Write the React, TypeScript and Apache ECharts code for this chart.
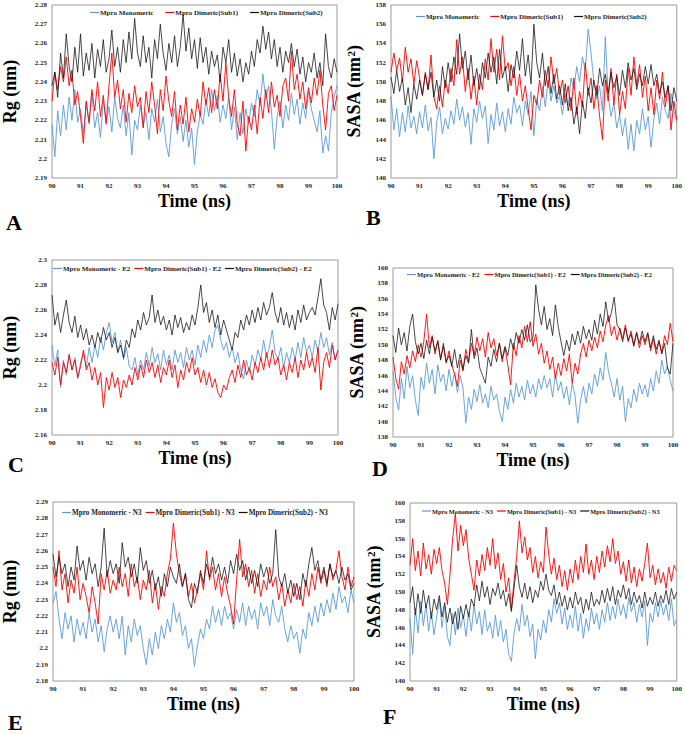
import React, { useEffect, useRef } from "react";
import * as echarts from "echarts";

// ---- time axis (ns) ----
const times: number[] = Array.from({ length: 101 }, (_, i) => Math.round((90 + i / 10) * 10) / 10);

// ---- Panel A: Rg (nm), apo ----
const rgA_mono = [2.218,2.201,2.225,2.212,2.228,2.215,2.232,2.220,2.236,2.219,2.226,
2.213,2.229,2.218,2.234,2.216,2.224,2.211,2.230,2.219,2.227,
2.214,2.232,2.221,2.216,2.228,2.212,2.224,2.202,2.220,2.215,
2.228,2.217,2.224,2.210,2.226,2.219,2.231,2.214,2.222,2.208,
2.201,2.218,2.226,2.213,2.222,2.209,2.220,2.206,2.216,2.197,
2.214,2.223,2.218,2.231,2.222,2.236,2.225,2.233,2.219,2.228,
2.221,2.232,2.215,2.227,2.210,2.224,2.213,2.226,2.218,2.229,
2.222,2.236,2.228,2.244,2.231,2.238,2.225,2.205,2.222,2.230,
2.216,2.228,2.220,2.234,2.223,2.231,2.218,2.229,2.221,2.235,
2.226,2.220,2.214,2.225,2.203,2.212,2.204,2.224,2.232,2.238];
const rgA_sub1 = [2.230,2.245,2.236,2.248,2.240,2.253,2.238,2.246,2.228,2.235,2.222,
2.208,2.230,2.219,2.236,2.225,2.240,2.222,2.233,2.218,2.238,
2.255,2.232,2.241,2.226,2.236,2.219,2.234,2.224,2.238,2.227,
2.232,2.216,2.235,2.224,2.240,2.228,2.213,2.236,2.225,2.243,
2.230,2.222,2.235,2.215,2.228,2.218,2.232,2.214,2.226,2.219,
2.231,2.222,2.240,2.228,2.237,2.224,2.236,2.226,2.244,2.230,
2.250,2.232,2.222,2.236,2.218,2.212,2.230,2.204,2.222,2.215,
2.228,2.213,2.232,2.221,2.236,2.224,2.240,2.227,2.233,2.222,
2.238,2.242,2.230,2.256,2.236,2.244,2.231,2.240,2.226,2.237,
2.229,2.242,2.233,2.246,2.228,2.215,2.234,2.238,2.225,2.233];
const rgA_sub2 = [2.238,2.245,2.232,2.255,2.242,2.265,2.248,2.240,2.258,2.245,2.265,
2.243,2.255,2.246,2.260,2.242,2.257,2.248,2.262,2.245,2.252,
2.267,2.248,2.258,2.245,2.262,2.250,2.266,2.252,2.273,2.255,
2.248,2.264,2.250,2.258,2.242,2.262,2.252,2.270,2.255,2.246,
2.260,2.250,2.264,2.248,2.258,2.275,2.256,2.268,2.252,2.262,
2.247,2.263,2.250,2.258,2.244,2.256,2.248,2.254,2.240,2.258,
2.250,2.262,2.245,2.255,2.243,2.252,2.240,2.250,2.244,2.256,
2.248,2.262,2.255,2.269,2.257,2.266,2.252,2.262,2.248,2.258,
2.245,2.256,2.250,2.260,2.248,2.257,2.244,2.253,2.240,2.250,
2.245,2.255,2.242,2.250,2.238,2.265,2.248,2.242,2.252,2.245];

// ---- Panel B: SASA (nm2), apo ----
const sasaB_mono = [148.5,145.0,147.2,144.3,146.8,144.8,147.5,145.2,146.4,144.6,146.9,
145.2,147.6,144.9,146.3,142.0,145.8,147.4,144.6,146.2,145.1,
147.0,145.6,148.2,146.0,147.4,145.3,146.8,143.5,147.2,145.8,
148.0,146.2,147.5,143.6,146.6,145.0,147.8,145.4,146.9,144.8,
147.2,145.6,148.4,146.8,147.6,145.4,148.0,146.6,149.0,144.4,
148.2,147.0,149.5,147.4,150.2,148.0,149.6,147.8,148.5,146.6,
148.8,147.5,150.4,149.2,151.6,150.0,152.6,151.2,155.5,153.0,
150.0,148.2,149.6,147.0,154.7,148.5,146.4,147.8,145.2,146.6,
144.4,146.2,143.0,145.6,142.8,146.0,144.6,147.2,145.0,146.4,
143.2,146.2,147.8,145.6,148.4,147.0,146.2,148.8,147.0,145.8];
const sasaB_sub1 = [151.0,153.0,151.2,152.5,150.0,153.6,151.0,152.4,149.8,152.2,150.4,
148.6,151.0,149.2,152.8,148.4,147.2,149.6,147.4,150.2,148.8,
151.4,149.6,154.4,150.8,152.6,149.0,151.4,148.2,150.6,147.6,
150.8,149.2,152.4,150.2,154.5,151.0,153.4,150.2,154.8,151.2,
152.0,149.6,151.6,148.6,150.8,148.0,149.6,147.2,145.0,148.6,
147.6,150.2,148.4,151.2,149.4,152.6,149.8,151.4,148.6,150.2,
147.8,149.6,147.0,150.4,146.6,149.0,147.4,152.0,148.6,150.4,
147.2,149.6,146.4,144.0,150.2,148.0,151.4,147.6,150.8,146.6,
149.0,147.2,151.4,148.6,152.6,149.6,151.8,148.4,150.6,147.0,
149.4,146.6,150.2,148.2,151.0,147.4,149.6,145.0,148.0,146.0];
const sasaB_sub2 = [150.5,148.8,151.2,149.0,150.4,147.6,149.4,146.8,149.8,148.2,150.2,
148.6,150.8,149.2,151.0,148.4,150.2,148.0,151.6,149.4,152.0,
150.0,152.6,150.8,155.0,151.4,153.2,150.2,152.8,149.6,151.4,
149.2,152.0,150.4,153.0,151.0,152.6,149.8,153.4,150.4,151.6,
149.0,151.8,150.4,153.2,151.2,154.5,150.6,152.8,149.8,156.0,
152.0,150.4,153.0,149.6,151.6,148.8,150.8,148.2,149.6,147.6,
149.8,147.0,148.4,145.6,147.4,144.6,148.0,146.2,149.4,147.8,
150.2,148.6,151.4,149.6,150.8,148.8,151.0,149.4,150.6,148.6,
151.2,149.4,152.0,150.2,151.4,149.2,150.8,149.6,151.6,149.8,
151.8,149.6,150.8,148.8,150.0,148.4,149.6,147.0,149.4,148.0];

// ---- Panel C: Rg (nm), E2 ----
const rgC_mono = [2.232,2.215,2.228,2.198,2.220,2.208,2.225,2.212,2.222,2.205,2.218,
2.226,2.214,2.230,2.218,2.232,2.222,2.238,2.228,2.242,2.250,
2.234,2.242,2.226,2.236,2.220,2.230,2.215,2.212,2.222,2.208,
2.220,2.212,2.226,2.215,2.230,2.218,2.225,2.212,2.228,2.216,
2.224,2.212,2.228,2.218,2.226,2.214,2.230,2.220,2.228,2.216,
2.232,2.222,2.236,2.226,2.240,2.230,2.244,2.248,2.236,2.228,
2.234,2.222,2.230,2.218,2.226,2.212,2.205,2.220,2.210,2.224,
2.216,2.228,2.220,2.236,2.222,2.230,2.244,2.226,2.220,2.230,
2.214,2.226,2.218,2.230,2.220,2.234,2.222,2.238,2.226,2.232,
2.222,2.236,2.226,2.242,2.230,2.238,2.224,2.234,2.220,2.228];
const rgC_sub1 = [2.218,2.208,2.222,2.200,2.218,2.210,2.224,2.212,2.220,2.206,2.215,
2.228,2.212,2.218,2.204,2.214,2.200,2.210,2.182,2.206,2.196,
2.210,2.198,2.206,2.190,2.204,2.198,2.208,2.200,2.214,2.204,
2.216,2.206,2.220,2.210,2.218,2.206,2.216,2.202,2.214,2.208,
2.220,2.206,2.216,2.198,2.212,2.204,2.218,2.210,2.222,2.208,
2.214,2.202,2.212,2.200,2.210,2.198,2.205,2.194,2.190,2.200,
2.196,2.206,2.212,2.202,2.216,2.206,2.220,2.208,2.214,2.204,
2.218,2.210,2.222,2.212,2.226,2.214,2.228,2.216,2.222,2.208,
2.216,2.204,2.218,2.210,2.222,2.206,2.220,2.212,2.226,2.214,
2.222,2.210,2.230,2.196,2.218,2.226,2.214,2.232,2.220,2.228];
const rgC_sub2 = [2.272,2.248,2.258,2.242,2.256,2.268,2.250,2.242,2.255,2.238,2.248,
2.236,2.245,2.232,2.240,2.230,2.242,2.234,2.246,2.236,2.242,
2.230,2.238,2.226,2.232,2.222,2.236,2.230,2.245,2.238,2.252,
2.244,2.258,2.248,2.254,2.272,2.250,2.260,2.248,2.255,2.244,
2.252,2.240,2.256,2.246,2.254,2.242,2.250,2.244,2.256,2.248,
2.262,2.280,2.258,2.266,2.250,2.260,2.246,2.256,2.240,2.252,
2.244,2.236,2.228,2.242,2.238,2.252,2.244,2.256,2.248,2.260,
2.250,2.262,2.252,2.266,2.256,2.262,2.274,2.258,2.250,2.262,
2.248,2.258,2.246,2.256,2.244,2.260,2.250,2.264,2.252,2.258,
2.262,2.256,2.270,2.285,2.264,2.258,2.244,2.262,2.252,2.265];

// ---- Panel D: SASA (nm2), E2 ----
const sasaD_mono = [146.5,143.2,141.5,145.6,143.0,147.2,144.4,146.0,142.8,140.8,145.8,
144.2,147.6,145.0,146.8,143.6,147.4,145.2,146.2,144.0,146.8,
144.6,146.4,143.8,146.0,144.4,139.8,143.2,141.6,144.2,142.6,
144.8,142.4,143.6,141.8,144.6,142.8,143.6,141.4,140.0,143.2,
141.6,144.2,142.4,145.0,143.2,144.6,142.8,145.4,143.6,144.8,
143.2,145.6,144.2,146.0,144.4,145.6,143.2,146.2,144.0,145.2,
143.0,144.6,142.2,145.0,143.4,139.8,142.8,144.6,142.4,145.0,
143.6,146.2,144.6,147.0,145.4,149.0,146.4,145.0,143.2,145.6,
142.8,144.6,140.0,143.0,141.8,144.2,142.6,145.0,143.6,144.8,
143.2,145.6,144.0,146.6,145.0,148.0,146.2,147.2,145.4,144.0];
const sasaD_sub1 = [148.4,145.6,144.2,147.8,146.2,148.6,147.0,149.2,147.8,150.0,148.4,
150.4,154.0,149.6,151.2,148.8,150.6,148.2,149.8,147.6,149.2,
147.4,146.2,144.6,148.0,146.6,149.4,147.8,150.2,148.6,151.0,
149.2,150.8,148.4,151.6,149.6,150.8,148.6,150.2,147.8,149.6,
147.4,144.8,150.2,148.6,151.2,149.6,152.4,150.4,153.0,149.8,
151.4,148.8,150.2,147.6,149.2,146.8,148.4,145.6,147.6,146.0,
148.2,146.6,148.8,145.0,147.6,146.2,148.8,150.2,148.4,150.6,
149.2,151.0,149.6,151.8,150.4,152.6,153.8,151.2,152.4,150.6,
152.2,150.8,152.6,150.4,151.8,150.0,151.6,149.6,151.2,150.0,
151.4,149.2,150.8,148.8,150.4,149.0,151.2,150.0,152.8,150.4];
const sasaD_sub2 = [151.2,149.0,152.2,150.0,151.6,149.2,152.4,154.0,150.4,148.8,150.2,
148.2,150.6,148.8,151.0,149.2,150.4,148.0,150.2,147.8,148.6,
147.2,149.4,147.0,148.8,146.8,148.6,147.6,152.0,148.2,149.6,
147.0,146.0,145.0,148.4,147.2,149.4,147.8,150.2,148.2,149.8,
148.6,150.8,149.4,151.6,150.2,152.0,150.6,152.6,150.4,151.0,
157.8,154.6,152.6,155.0,152.0,153.4,151.2,155.2,152.4,150.4,
148.6,150.6,149.2,151.4,150.0,151.8,150.2,152.4,150.8,152.0,
150.6,153.2,151.4,154.0,152.4,155.6,153.0,154.2,156.2,152.6,
152.0,150.4,152.2,150.6,151.4,149.8,151.6,150.2,151.8,150.4,
151.6,149.6,151.2,149.4,150.6,148.8,150.2,147.0,146.2,150.2];

// ---- Panel E: Rg (nm), N3 ----
const rgE_mono = [2.228,2.235,2.218,2.206,2.222,2.212,2.220,2.204,2.218,2.208,2.216,
2.206,2.222,2.210,2.218,2.204,2.214,2.198,2.212,2.220,2.210,
2.218,2.206,2.220,2.196,2.214,2.204,2.218,2.208,2.214,2.200,
2.190,2.206,2.196,2.210,2.200,2.214,2.206,2.218,2.210,2.228,
2.216,2.222,2.208,2.214,2.200,2.206,2.189,2.202,2.212,2.206,
2.218,2.212,2.226,2.216,2.224,2.214,2.226,2.218,2.222,2.212,
2.224,2.216,2.228,2.214,2.226,2.218,2.224,2.212,2.228,2.220,
2.226,2.214,2.230,2.220,2.216,2.226,2.212,2.204,2.214,2.206,
2.210,2.197,2.212,2.206,2.222,2.214,2.226,2.216,2.228,2.220,
2.230,2.222,2.234,2.224,2.238,2.228,2.232,2.222,2.236,2.228];
const rgE_sub1 = [2.250,2.238,2.260,2.236,2.246,2.228,2.242,2.234,2.250,2.230,2.240,
2.232,2.222,2.238,2.228,2.215,2.246,2.236,2.248,2.234,2.242,
2.236,2.250,2.238,2.246,2.232,2.252,2.238,2.244,2.230,2.242,
2.236,2.248,2.228,2.240,2.224,2.238,2.232,2.246,2.255,2.277,
2.258,2.246,2.238,2.246,2.232,2.240,2.228,2.236,2.246,2.236,
2.260,2.242,2.250,2.236,2.246,2.232,2.244,2.234,2.226,2.215,
2.242,2.267,2.244,2.252,2.238,2.248,2.234,2.246,2.232,2.242,
2.236,2.250,2.238,2.244,2.230,2.240,2.226,2.236,2.228,2.240,
2.230,2.238,2.226,2.242,2.232,2.246,2.236,2.250,2.240,2.248,
2.238,2.252,2.242,2.248,2.260,2.244,2.236,2.250,2.238,2.244];
const rgE_sub2 = [2.258,2.244,2.256,2.246,2.252,2.238,2.250,2.242,2.263,2.248,2.254,
2.242,2.256,2.246,2.252,2.238,2.250,2.274,2.244,2.254,2.246,
2.252,2.240,2.265,2.250,2.256,2.244,2.252,2.240,2.262,2.248,
2.254,2.240,2.248,2.236,2.244,2.232,2.246,2.238,2.250,2.244,
2.240,2.252,2.238,2.246,2.230,2.225,2.240,2.234,2.248,2.240,
2.252,2.244,2.256,2.246,2.252,2.242,2.250,2.240,2.254,2.246,
2.258,2.248,2.254,2.242,2.250,2.240,2.248,2.238,2.252,2.244,
2.250,2.240,2.246,2.273,2.244,2.238,2.246,2.234,2.242,2.232,
2.240,2.230,2.246,2.238,2.252,2.262,2.248,2.254,2.242,2.250,
2.240,2.252,2.244,2.248,2.240,2.250,2.242,2.246,2.236,2.240];

// ---- Panel F: SASA (nm2), N3 ----
const sasaF_mono = [147.0,143.0,148.2,145.4,149.0,146.2,148.6,145.6,147.8,145.2,147.2,
149.2,146.0,148.4,145.0,144.0,147.6,145.2,148.2,146.0,147.4,
145.0,147.8,145.6,148.6,146.4,147.8,145.2,148.0,145.6,146.6,
144.8,147.4,145.0,146.8,144.4,145.8,143.0,142.2,145.4,147.0,
145.6,148.6,146.2,147.4,145.0,146.4,142.5,145.8,144.6,146.8,
145.4,148.0,146.6,149.2,147.6,148.8,146.4,148.2,145.8,147.4,
146.0,148.4,145.6,147.6,144.8,147.0,145.6,148.2,146.4,147.6,
145.8,148.0,146.6,148.8,146.8,148.4,147.0,149.2,147.4,148.6,
147.0,149.4,147.8,148.8,146.6,148.6,147.2,149.0,144.0,147.6,
146.6,148.8,147.2,149.0,147.4,148.6,146.8,149.2,146.2,147.0];
const sasaF_sub1 = [153.0,156.0,152.4,154.6,151.8,155.5,152.6,154.2,152.0,154.8,153.2,
155.0,152.4,151.0,148.6,152.0,156.0,158.8,154.6,157.5,155.2,
157.0,153.8,152.0,150.2,153.6,151.8,154.2,152.4,155.0,153.0,
156.0,152.6,154.4,151.4,153.2,150.0,151.6,148.0,151.2,154.0,
158.0,154.4,156.2,153.6,155.0,152.2,154.0,151.6,153.4,152.2,
157.3,154.2,152.0,153.8,151.4,153.0,150.6,152.4,150.2,152.6,
151.0,153.6,151.4,154.0,152.2,155.4,152.0,153.6,151.4,154.0,
152.2,154.6,152.8,155.2,153.4,156.0,153.2,154.6,152.0,153.4,
151.2,153.6,151.0,152.8,150.6,152.6,151.2,153.2,155.5,151.6,
153.0,150.8,152.6,151.0,152.2,150.4,152.8,151.2,153.0,152.4];
const sasaF_sub2 = [148.8,150.6,147.4,149.8,147.6,150.2,148.2,149.6,147.0,149.2,148.0,
149.6,147.2,148.8,146.6,148.2,146.4,147.8,145.8,148.4,147.0,
148.6,147.2,149.2,148.4,150.8,149.0,151.2,149.4,150.6,148.6,
150.4,149.6,151.0,149.2,150.2,148.4,149.8,147.8,150.4,153.0,
150.6,149.4,151.0,149.2,150.6,148.8,150.2,149.4,151.2,150.2,
152.0,150.2,149.6,150.8,148.6,150.0,148.4,149.6,148.0,149.4,
148.2,150.0,148.6,149.4,147.6,149.2,148.0,150.0,148.4,149.2,
148.6,150.2,148.8,150.4,149.0,150.6,148.6,150.2,149.4,150.8,
149.2,150.4,148.6,150.0,148.8,149.6,148.2,150.0,148.4,149.4,
148.6,150.0,148.4,149.6,148.8,150.2,148.6,150.4,149.2,150.0];

const namesAB = ["Mpro Monomeric", "Mpro Dimeric(Sub1)", "Mpro Dimeric(Sub2)"];
const namesCD = ["Mpro Monomeric - E2", "Mpro Dimeric(Sub1) - E2", "Mpro Dimeric(Sub2) - E2"];
const namesEF = ["Mpro Monomeric - N3", "Mpro Dimeric(Sub1) - N3", "Mpro Dimeric(Sub2) - N3"];
const panelLetters = ["A", "B", "C", "D", "E", "F"];
const rgTitle = "Rg (nm)";
const sasaTitle = "SASA (nm{sup|2})";
const timeTitle = "Time (ns)";

const COLORS = ["#5b9bd5", "#ff0000", "#111111"];
const FONT = "'Liberation Serif', 'Times New Roman', serif";

const panels = [
  { names: namesAB, data: [rgA_mono, rgA_sub1, rgA_sub2], min: 2.19, max: 2.28, interval: 0.01, title: rgTitle,
    grid: { left: 43, top: 5, width: 294, height: 173 }, nameGap: 33,
    legend: { left: 90, top: 9, gap: 12, fs: 7 }, letter: [6, 211] },
  { names: namesAB, data: [sasaB_mono, sasaB_sub1, sasaB_sub2], min: 140, max: 158, interval: 2, title: sasaTitle,
    grid: { left: 391, top: 5, width: 288, height: 173 }, nameGap: 28,
    legend: { left: 416, top: 13, gap: 11, fs: 7 }, letter: [366, 206] },
  { names: namesCD, data: [rgC_mono, rgC_sub1, rgC_sub2], min: 2.16, max: 2.3, interval: 0.02, title: rgTitle,
    grid: { left: 43, top: 260, width: 295, height: 175 }, nameGap: 33,
    legend: { left: 53, top: 265, gap: 4, fs: 7 }, letter: [8, 453] },
  { names: namesCD, data: [sasaD_mono, sasaD_sub1, sasaD_sub2], min: 138, max: 160, interval: 2, title: sasaTitle,
    grid: { left: 393, top: 268, width: 280, height: 169 }, nameGap: 27,
    legend: { left: 407, top: 271, gap: 5, fs: 6.5 }, letter: [372, 457] },
  { names: namesEF, data: [rgE_mono, rgE_sub1, rgE_sub2], min: 2.18, max: 2.29, interval: 0.01, title: rgTitle,
    grid: { left: 47, top: 502, width: 307, height: 179 }, nameGap: 34,
    legend: { left: 62, top: 509, gap: 4, fs: 7.2 }, letter: [8, 711] },
  { names: namesEF, data: [sasaF_mono, sasaF_sub1, sasaF_sub2], min: 140, max: 160, interval: 2, title: sasaTitle,
    grid: { left: 410, top: 503, width: 272, height: 178 }, nameGap: 27,
    legend: { left: 422, top: 508, gap: 4, fs: 6.3 }, letter: [383, 705] },
];

export default function App() {
  const ref = useRef<HTMLDivElement>(null);
  useEffect(() => {
    if (!ref.current) return;
    const chart = echarts.init(ref.current, undefined, { renderer: "svg" });
    const grid: any[] = [];
    const xAxis: any[] = [];
    const yAxis: any[] = [];
    const series: any[] = [];
    const legend: any[] = [];
    const graphic: any[] = [];
    panels.forEach((p, gi) => {
      grid.push({ ...p.grid, show: true, borderColor: "#9a9a9a", borderWidth: 1, backgroundColor: "transparent" });
      xAxis.push({
        type: "value", gridIndex: gi, min: 90, max: 100, interval: 1,
        axisLine: { show: false }, axisTick: { show: false }, splitLine: { show: false },
        axisLabel: { fontFamily: FONT, fontWeight: "bold", fontSize: 7, color: "#222", margin: 4 },
        name: timeTitle, nameLocation: "middle", nameGap: 14,
        nameTextStyle: { fontFamily: FONT, fontWeight: "bold", fontSize: 18, color: "#000", verticalAlign: "top" },
      });
      yAxis.push({
        type: "value", gridIndex: gi, min: p.min, max: p.max, interval: p.interval,
        axisLine: { show: false }, axisTick: { show: false }, splitLine: { show: false },
        axisLabel: { fontFamily: FONT, fontWeight: "bold", fontSize: 7, color: "#222", margin: 5 },
        name: p.title, nameLocation: "middle", nameGap: p.nameGap,
        nameTextStyle: {
          fontFamily: FONT, fontWeight: "bold", fontSize: 18, color: "#000",
          rich: { sup: { fontFamily: FONT, fontWeight: "bold", fontSize: 11, color: "#000", verticalAlign: "top", lineHeight: 18 } },
        },
      });
      p.names.forEach((n, si) => {
        series.push({
          type: "line", name: n, xAxisIndex: gi, yAxisIndex: gi,
          data: times.map((t, i) => [t, p.data[si][i]]),
          showSymbol: false, silent: true,
          lineStyle: { color: COLORS[si], width: 0.9, opacity: si === 2 ? 0.85 : 1 },
          itemStyle: { color: COLORS[si] },
          z: 2 + si,
        });
      });
      legend.push({
        left: p.legend.left, top: p.legend.top, width: 400, padding: 0, data: p.names, icon: "rect",
        itemWidth: 9, itemHeight: 1.2, itemGap: p.legend.gap, selectedMode: false,
        textStyle: { fontFamily: FONT, fontWeight: "bold", fontSize: p.legend.fs, color: "#222", padding: [0, 0, 0, -4] },
      });
      graphic.push({
        type: "text", x: p.letter[0], y: p.letter[1],
        style: { text: panelLetters[gi], font: `bold 22px ${FONT}`, fill: "#000" },
      });
    });
    chart.setOption({ animation: false, backgroundColor: "#fff", grid, xAxis, yAxis, series, legend, graphic });
    return () => chart.dispose();
  }, []);
  return <div ref={ref} style={{ position: "absolute", left: 0, top: 0, width: 685, height: 734 }} />;
}
